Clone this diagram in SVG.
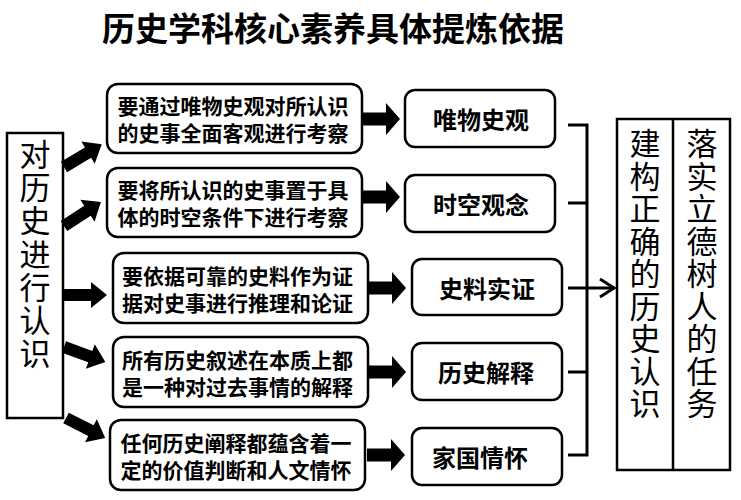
<svg xmlns="http://www.w3.org/2000/svg" xmlns:xlink="http://www.w3.org/1999/xlink" width="741" height="500" viewBox="0 0 741 500">
<style>
text{font-family:"Noto Sans CJK SC","Noto Sans",sans-serif;fill:#000;}
.title{font-size:33px;font-weight:bold;text-anchor:middle;dominant-baseline:central;}
.box{fill:#fff;stroke:#000;stroke-width:2.5;}
.desc{font-size:21px;font-weight:bold;text-anchor:middle;dominant-baseline:central;}
.con{font-size:24px;font-weight:bold;text-anchor:middle;dominant-baseline:central;}
.vert{font-size:31px;text-anchor:middle;dominant-baseline:central;}
.line{fill:none;stroke:#000;stroke-width:3;}
.thick{fill:#000;}
</style>
<defs>
<path id="la" d="M0,-6 H28 V-13 L44,0 L28,13 V6 H0 Z"/>
<path id="ra" d="M0,-6.5 H24 V-16 L38,0 L24,16 V6.5 H0 Z"/>
<marker id="chev" markerUnits="userSpaceOnUse" markerWidth="20" markerHeight="22" refX="16" refY="10" orient="auto">
<path d="M2,1 L16,10 L2,19" fill="none" stroke="#000" stroke-width="3"/>
</marker>
</defs>
<rect width="741" height="500" fill="#fff"/>
<text class="title" x="333" y="27">历史学科核心素养具体提炼依据</text>

<g id="left">
<rect class="box" x="7" y="133" width="56" height="285"/>
<text class="vert"><tspan x="35" y="152">对</tspan><tspan x="35" y="185">历</tspan><tspan x="35" y="218">史</tspan><tspan x="35" y="252">进</tspan><tspan x="35" y="285">行</tspan><tspan x="35" y="318">认</tspan><tspan x="35" y="351">识</tspan></text>
</g>

<g id="d1"><rect class="box" x="107" y="84" width="255" height="69" rx="11"/>
<text class="desc" x="233" y="105">要通过唯物史观对所认识</text><text class="desc" x="233" y="132">的史事全面客观进行考察</text></g>
<g id="d2"><rect class="box" x="107" y="168" width="255" height="69" rx="11"/>
<text class="desc" x="233" y="189">要将所认识的史事置于具</text><text class="desc" x="233" y="216">体的时空条件下进行考察</text></g>
<g id="d3"><rect class="box" x="113" y="253" width="255" height="70" rx="11"/>
<text class="desc" x="237.5" y="274.5">要依据可靠的史料作为证</text><text class="desc" x="237.5" y="301.5">据对史事进行推理和论证</text></g>
<g id="d4"><rect class="box" x="113" y="337" width="255" height="70" rx="11"/>
<text class="desc" x="237.5" y="358.5">所有历史叙述在本质上都</text><text class="desc" x="237.5" y="385.5">是一种对过去事情的解释</text></g>
<g id="d5"><rect class="box" x="110" y="420" width="255" height="70" rx="11"/>
<text class="desc" x="236" y="441.5">任何历史阐释都蕴含着一</text><text class="desc" x="236" y="468.5">定的价值判断和人文情怀</text></g>

<g id="c1"><rect class="box" x="405" y="90" width="150" height="57" rx="10"/><text class="con" x="481" y="118.5">唯物史观</text></g>
<g id="c2"><rect class="box" x="405" y="175" width="150" height="57" rx="10"/><text class="con" x="481" y="203.5">时空观念</text></g>
<g id="c3"><rect class="box" x="412" y="259" width="150" height="56" rx="10"/><text class="con" x="487" y="287">史料实证</text></g>
<g id="c4"><rect class="box" x="412" y="343" width="150" height="57" rx="10"/><text class="con" x="486" y="371.5">历史解释</text></g>
<g id="c5"><rect class="box" x="412" y="428" width="150" height="57" rx="10"/><text class="con" x="480" y="456.5">家国情怀</text></g>

<g id="right">
<rect class="box" x="617" y="119" width="113" height="351"/>
<line x1="673" y1="119" x2="673" y2="470" stroke="#000" stroke-width="2.5"/>
<text class="vert"><tspan x="645" y="141">建</tspan><tspan x="645" y="173.5">构</tspan><tspan x="645" y="206">正</tspan><tspan x="645" y="238.5">确</tspan><tspan x="645" y="271">的</tspan><tspan x="645" y="303.5">历</tspan><tspan x="645" y="336">史</tspan><tspan x="645" y="368.5">认</tspan><tspan x="645" y="401">识</tspan></text>
<text class="vert"><tspan x="702" y="141">落</tspan><tspan x="702" y="173.5">实</tspan><tspan x="702" y="206">立</tspan><tspan x="702" y="238.5">德</tspan><tspan x="702" y="271">树</tspan><tspan x="702" y="303.5">人</tspan><tspan x="702" y="336">的</tspan><tspan x="702" y="368.5">任</tspan><tspan x="702" y="401">务</tspan></text>
</g>

<g id="connectors">
<use href="#la" class="thick" transform="translate(64,167) rotate(-31)"/>
<use href="#la" class="thick" transform="translate(64,226) rotate(-33)"/>
<use href="#la" class="thick" transform="translate(63,295)"/>
<use href="#la" class="thick" transform="translate(64,347) rotate(20)"/>
<use href="#la" class="thick" transform="translate(66,418) rotate(27)"/>
<use href="#ra" class="thick" transform="translate(362,119)"/>
<use href="#ra" class="thick" transform="translate(362,197)"/>
<use href="#ra" class="thick" transform="translate(368,288)"/>
<use href="#ra" class="thick" transform="translate(368,372)"/>
<use href="#ra" class="thick" transform="translate(367,455)"/>
<path class="line" d="M568,125 H587 V455 H568 M568,203 H587 M568,372 H587"/>
<path class="line" d="M568,288 H614" marker-end="url(#chev)"/>
</g>
</svg>
